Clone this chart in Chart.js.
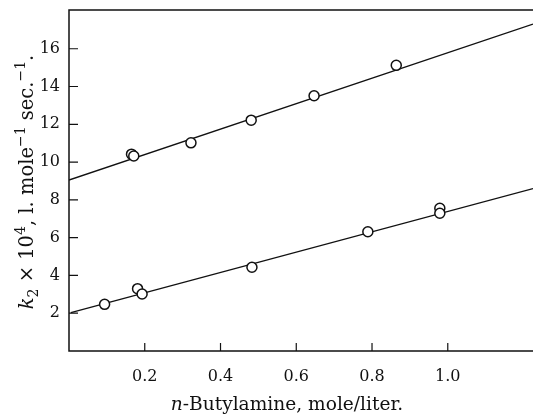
<!DOCTYPE html>
<html>
<head>
<meta charset="utf-8">
<script src="https://cdn.jsdelivr.net/npm/chart.js@4/dist/chart.umd.min.js"></script>
<style>
  html, body { margin: 0; padding: 0; background: #fff; }
  canvas { display: block; }
</style>
</head>
<body>
<canvas id="chart" width="533" height="414"></canvas>
<script>
// tick labels
const xTicks = [0.2, 0.4, 0.6, 0.8, 1.0];
const yTicks = [2, 4, 6, 8, 10, 12, 14, 16];

// upper series (measured points)
const upperX = [0.165, 0.171, 0.322, 0.481, 0.647, 0.864];
const upperY = [10.42, 10.32, 11.02, 12.22, 13.51, 15.12];

// lower series (measured points)
const lowerX = [0.094, 0.181, 0.193, 0.483, 0.789, 0.979, 0.979];
const lowerY = [2.47, 3.30, 3.02, 4.43, 6.31, 7.55, 7.29];

// fitted lines (end values)
const upperFitX = [0, 1.225];
const upperFitY = [9.05, 17.3];
const lowerFitX = [0.005, 1.225];
const lowerFitY = [2.03, 8.6];

const ink = '#111';
const serif = '"DejaVu Serif", "Liberation Serif", serif';

const toPoints = (xs, ys) => xs.map((x, i) => ({ x: x, y: ys[i] }));

// no extra padding from tick labels, the frame sits where the picture has it
const noPad = s => {
    s.paddingTop = 0;
    s.paddingBottom = 0;
    s.paddingLeft = 0;
    s.paddingRight = 0;
};

// draws a run of text pieces with their own style (italic, sub, sup)
function drawRich(ctx, parts, x, y, size) {
    const fontOf = p => {
        const s = p.sub || p.sup ? Math.round(size * 0.7) : size;
        return (p.italic ? 'italic ' : '') + s + 'px ' + serif;
    };
    let total = 0;
    parts.forEach(p => { ctx.font = fontOf(p); total += ctx.measureText(p.t).width; });
    let cx = x - total / 2;
    ctx.textBaseline = 'alphabetic';
    ctx.textAlign = 'left';
    parts.forEach(p => {
        ctx.font = fontOf(p);
        let dy = 0;
        if (p.sub) dy = size * 0.25;
        if (p.sup) dy = -size * 0.42;
        ctx.fillText(p.t, cx, y + dy);
        cx += ctx.measureText(p.t).width;
    });
}

const framePlugin = {
    id: 'frame',
    afterDraw(chart) {
        const ctx = chart.ctx;
        const a = chart.chartArea;
        const xs = chart.scales.x;
        const ys = chart.scales.y;
        ctx.save();
        ctx.strokeStyle = ink;
        ctx.lineWidth = 1.5;
        ctx.beginPath();
        ctx.moveTo(chart.width, a.top);
        ctx.lineTo(a.left, a.top);
        ctx.lineTo(a.left, a.bottom);
        ctx.lineTo(chart.width, a.bottom);
        ctx.stroke();

        // inward tick marks
        ctx.lineWidth = 1.2;
        ctx.beginPath();
        xTicks.forEach(v => {
            const px = xs.getPixelForValue(v);
            ctx.moveTo(px, a.bottom);
            ctx.lineTo(px, a.bottom - 8);
        });
        yTicks.forEach(v => {
            const py = ys.getPixelForValue(v);
            ctx.moveTo(a.left, py);
            ctx.lineTo(a.left + 9, py);
        });
        ctx.stroke();

        // axis titles
        ctx.fillStyle = ink;
        drawRich(ctx, [
            { t: 'n', italic: true },
            { t: '-Butylamine, mole/liter.' }
        ], 287, 410, 18.6);

        ctx.translate(33, 182);
        ctx.rotate(-Math.PI / 2);
        drawRich(ctx, [
            { t: 'k', italic: true },
            { t: '2', sub: true },
            { t: ' \u00d7 10' },
            { t: '4', sup: true },
            { t: ', l. mole' },
            { t: '\u22121', sup: true },
            { t: ' sec.' },
            { t: '\u22121', sup: true },
            { t: '.' }
        ], 0, 0, 19.5);
        ctx.restore();
    }
};

new Chart(document.getElementById('chart').getContext('2d'), {
    type: 'scatter',
    data: {
        datasets: [
            {
                data: toPoints(upperX, upperY),
                pointRadius: 5,
                pointBorderWidth: 1.5,
                pointBorderColor: ink,
                pointBackgroundColor: '#fff',
                showLine: false,
                order: 0
            },
            {
                data: toPoints(lowerX, lowerY),
                pointRadius: 5,
                pointBorderWidth: 1.5,
                pointBorderColor: ink,
                pointBackgroundColor: '#fff',
                showLine: false,
                order: 0
            },
            {
                data: toPoints(upperFitX, upperFitY),
                showLine: true,
                borderColor: ink,
                borderWidth: 1.3,
                pointRadius: 0,
                order: 1
            },
            {
                data: toPoints(lowerFitX, lowerFitY),
                showLine: true,
                borderColor: ink,
                borderWidth: 1.3,
                pointRadius: 0,
                order: 1
            }
        ]
    },
    options: {
        responsive: false,
        animation: false,
        devicePixelRatio: 1,
        layout: { autoPadding: false, padding: { top: 10, right: 0, bottom: 0, left: 0 } },
        plugins: {
            legend: { display: false },
            tooltip: { enabled: false }
        },
        scales: {
            x: {
                type: 'linear',
                min: 0,
                max: 1.225,
                afterBuildTicks: s => { s.ticks = xTicks.map(v => ({ value: v })); },
                afterFit: s => { s.height = 63; noPad(s); },
                grid: { display: false, drawTicks: false },
                border: { display: false },
                ticks: {
                    callback: v => v.toFixed(1),
                    color: ink,
                    font: { family: serif, size: 16 },
                    padding: 16,
                    maxRotation: 0
                }
            },
            y: {
                type: 'linear',
                min: 0,
                max: 18.05,
                afterBuildTicks: s => { s.ticks = yTicks.map(v => ({ value: v })); },
                afterFit: s => { s.width = 69; noPad(s); },
                grid: { display: false, drawTicks: false },
                border: { display: false },
                ticks: {
                    callback: v => String(v),
                    color: ink,
                    font: { family: serif, size: 16 },
                    padding: 9
                }
            }
        }
    },
    plugins: [framePlugin]
});
</script>
</body>
</html>
